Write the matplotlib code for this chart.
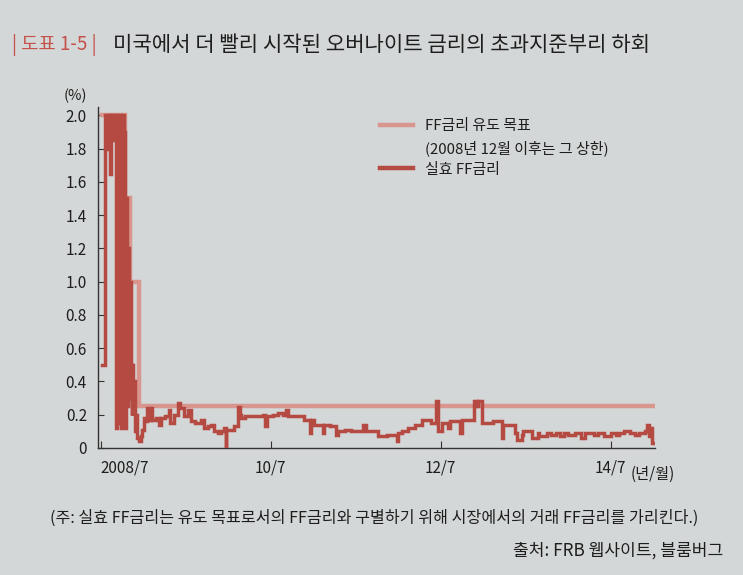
import matplotlib
matplotlib.use("Agg")
import matplotlib.pyplot as plt
from matplotlib.lines import Line2D

plt.rcParams['font.family'] = ['Noto Sans CJK KR', 'DejaVu Sans']

# ---- data (decimal years) ----
target_t = [2008.52, 2008.79, 2008.85, 2008.955, 2015.015]
target_v = [2.00, 1.50, 1.00, 0.25, 0.25]

eff_t = [2008.520, 2008.550, 2008.580, 2008.595, 2008.610, 2008.620, 2008.640, 2008.655,
         2008.680, 2008.690, 2008.705, 2008.715, 2008.725, 2008.745, 2008.755, 2008.770,
         2008.780, 2008.790, 2008.800, 2008.815, 2008.825, 2008.835, 2008.845, 2008.855,
         2008.865, 2008.875, 2008.885, 2008.895, 2008.905, 2008.915, 2008.925, 2008.950,
         2008.975, 2008.991, 2009.015, 2009.040, 2009.050, 2009.060, 2009.096, 2009.110,
         2009.150, 2009.190, 2009.210, 2009.260, 2009.300, 2009.320, 2009.360, 2009.410,
         2009.440, 2009.480, 2009.530, 2009.560, 2009.610, 2009.680, 2009.720, 2009.760,
         2009.800, 2009.830, 2009.880, 2009.920, 2009.950, 2009.970, 2009.980, 2010.070,
         2010.120, 2010.135, 2010.150, 2010.200, 2010.415, 2010.435, 2010.455, 2010.530,
         2010.590, 2010.650, 2010.680, 2010.710, 2010.890, 2010.960, 2010.980, 2011.010,
         2011.110, 2011.130, 2011.200, 2011.270, 2011.290, 2011.370, 2011.450, 2011.590,
         2011.620, 2011.760, 2011.870, 2011.980, 2012.000, 2012.040, 2012.110, 2012.200,
         2012.280, 2012.380, 2012.440, 2012.470, 2012.510, 2012.590, 2012.610, 2012.730,
         2012.750, 2012.890, 2012.930, 2012.940, 2012.980, 2013.120, 2013.220, 2013.235,
         2013.370, 2013.400, 2013.455, 2013.470, 2013.570, 2013.640, 2013.660, 2013.750,
         2013.800, 2013.850, 2013.900, 2013.950, 2014.000, 2014.080, 2014.150, 2014.200,
         2014.300, 2014.350, 2014.420, 2014.500, 2014.560, 2014.600, 2014.650, 2014.720,
         2014.790, 2014.830, 2014.900, 2014.920, 2014.950, 2014.970, 2014.990, 2015.015]
eff_v = [0.50, 2.00, 1.80, 2.00, 1.65, 2.00, 1.85, 2.00,
         0.12, 2.00, 1.75, 0.15, 2.00, 0.12, 2.00, 0.20,
         1.90, 0.12, 1.50, 0.25, 1.20, 0.30, 1.00, 0.50,
         0.20, 0.50, 0.25, 0.40, 0.10, 0.20, 0.06, 0.04,
         0.07, 0.11, 0.18, 0.16, 0.24, 0.17, 0.24, 0.17,
         0.18, 0.14, 0.18, 0.19, 0.23, 0.15, 0.20, 0.27,
         0.24, 0.19, 0.23, 0.16, 0.15, 0.17, 0.12, 0.13,
         0.14, 0.10, 0.09, 0.10, 0.12, 0.00, 0.11, 0.13,
         0.245, 0.20, 0.18, 0.19, 0.20, 0.13, 0.19, 0.20,
         0.21, 0.20, 0.23, 0.19, 0.17, 0.09, 0.17, 0.14,
         0.09, 0.14, 0.13, 0.08, 0.10, 0.11, 0.10, 0.14,
         0.10, 0.07, 0.08, 0.04, 0.09, 0.10, 0.12, 0.14,
         0.17, 0.15, 0.28, 0.10, 0.15, 0.12, 0.16, 0.09,
         0.17, 0.28, 0.25, 0.28, 0.15, 0.16, 0.06, 0.14,
         0.09, 0.05, 0.08, 0.10, 0.06, 0.09, 0.07, 0.09,
         0.08, 0.09, 0.07, 0.09, 0.08, 0.09, 0.06, 0.09,
         0.08, 0.09, 0.07, 0.09, 0.08, 0.09, 0.10, 0.09,
         0.08, 0.09, 0.10, 0.14, 0.07, 0.12, 0.03, 0.03]

tick_pos = [2008.5, 2010.5, 2012.5, 2014.5]
tick_lab = ["2008/7", "10/7", "12/7", "14/7"]
ytick_pos = [0, 0.2, 0.4, 0.6, 0.8, 1.0, 1.2, 1.4, 1.6, 1.8, 2.0]
ytick_lab = ["0", "0.2", "0.4", "0.6", "0.8", "1.0", "1.2", "1.4", "1.6", "1.8", "2.0"]

BG = "#d4d7d7"
PALE = "#d8968f"
DARK = "#b44a41"
RED = "#c4514a"
TXT = "#1e1e1e"

fig = plt.figure(figsize=(7.43, 5.75), dpi=100, facecolor=BG)
ax = fig.add_axes([0.1319, 0.2209, 0.7497, 0.593], facecolor=BG)

ax.step(target_t, target_v, where='post', color=PALE, lw=3.2, solid_joinstyle='miter', zorder=2)
ax.step(eff_t, eff_v, where='post', color=DARK, lw=2.5, solid_joinstyle='miter', zorder=3)

ax.set_xlim(2008.47, 2015.02)
ax.set_ylim(0, 2.05)
for s in ['top', 'right']:
    ax.spines[s].set_visible(False)
for s in ['left', 'bottom']:
    ax.spines[s].set_color('#333333')
    ax.spines[s].set_linewidth(1.0)

ax.set_yticks(ytick_pos)
ax.set_yticklabels(ytick_lab, fontsize=11, color=TXT)
ax.set_xticks(tick_pos)
ax.set_xticklabels(tick_lab, fontsize=11, color=TXT)
ax.tick_params(axis='y', direction='in', length=4, width=0.8, pad=8, colors='#333333', labelcolor=TXT)
ax.tick_params(axis='x', direction='in', length=5, width=0.8, pad=8, colors='#333333', labelcolor=TXT)
ax.get_xticklabels()[0].set_ha('left')

ax.annotate("(%)", xy=(0, 1), xycoords='axes fraction', xytext=(-16, 8),
            textcoords='offset points', ha='center', va='center', fontsize=10.5, color=TXT)
ax.annotate("(년/월)", xy=(0.957, 0), xycoords='axes fraction', xytext=(0, -19),
            textcoords='offset points', ha='left', va='center', fontsize=11, color=TXT)

handles = [Line2D([], [], color=PALE, lw=3.2),
           Line2D([], [], color='none', lw=0),
           Line2D([], [], color=DARK, lw=3.2)]
labels = ["FF금리 유도 목표", "(2008년 12월 이후는 그 상한)", "실효 FF금리"]
leg = fig.legend(handles, labels, loc='upper left', bbox_to_anchor=(0.503, 0.803),
                 frameon=False, fontsize=10.8, handlelength=2.2, handletextpad=0.8,
                 labelspacing=0.45, borderaxespad=0)
for t in leg.get_texts():
    t.set_color(TXT)

fig.text(0.016, 0.921, "| 도표 1-5 |", color=RED, fontsize=13.5, ha='left', va='center')
fig.text(0.152, 0.921, "미국에서 더 빨리 시작된 오버나이트 금리의 초과지준부리 하회",
         color=TXT, fontsize=15.2, ha='left', va='center')
fig.text(0.067, 0.099, "(주: 실효 FF금리는 유도 목표로서의 FF금리와 구별하기 위해 시장에서의 거래 FF금리를 가리킨다.)",
         color=TXT, fontsize=11.6, ha='left', va='center')
fig.text(0.973, 0.042, "출처: FRB 웹사이트, 블룸버그", color=TXT, fontsize=12.3,
         ha='right', va='center')

fig.savefig("out.png", dpi=100, facecolor=BG)
